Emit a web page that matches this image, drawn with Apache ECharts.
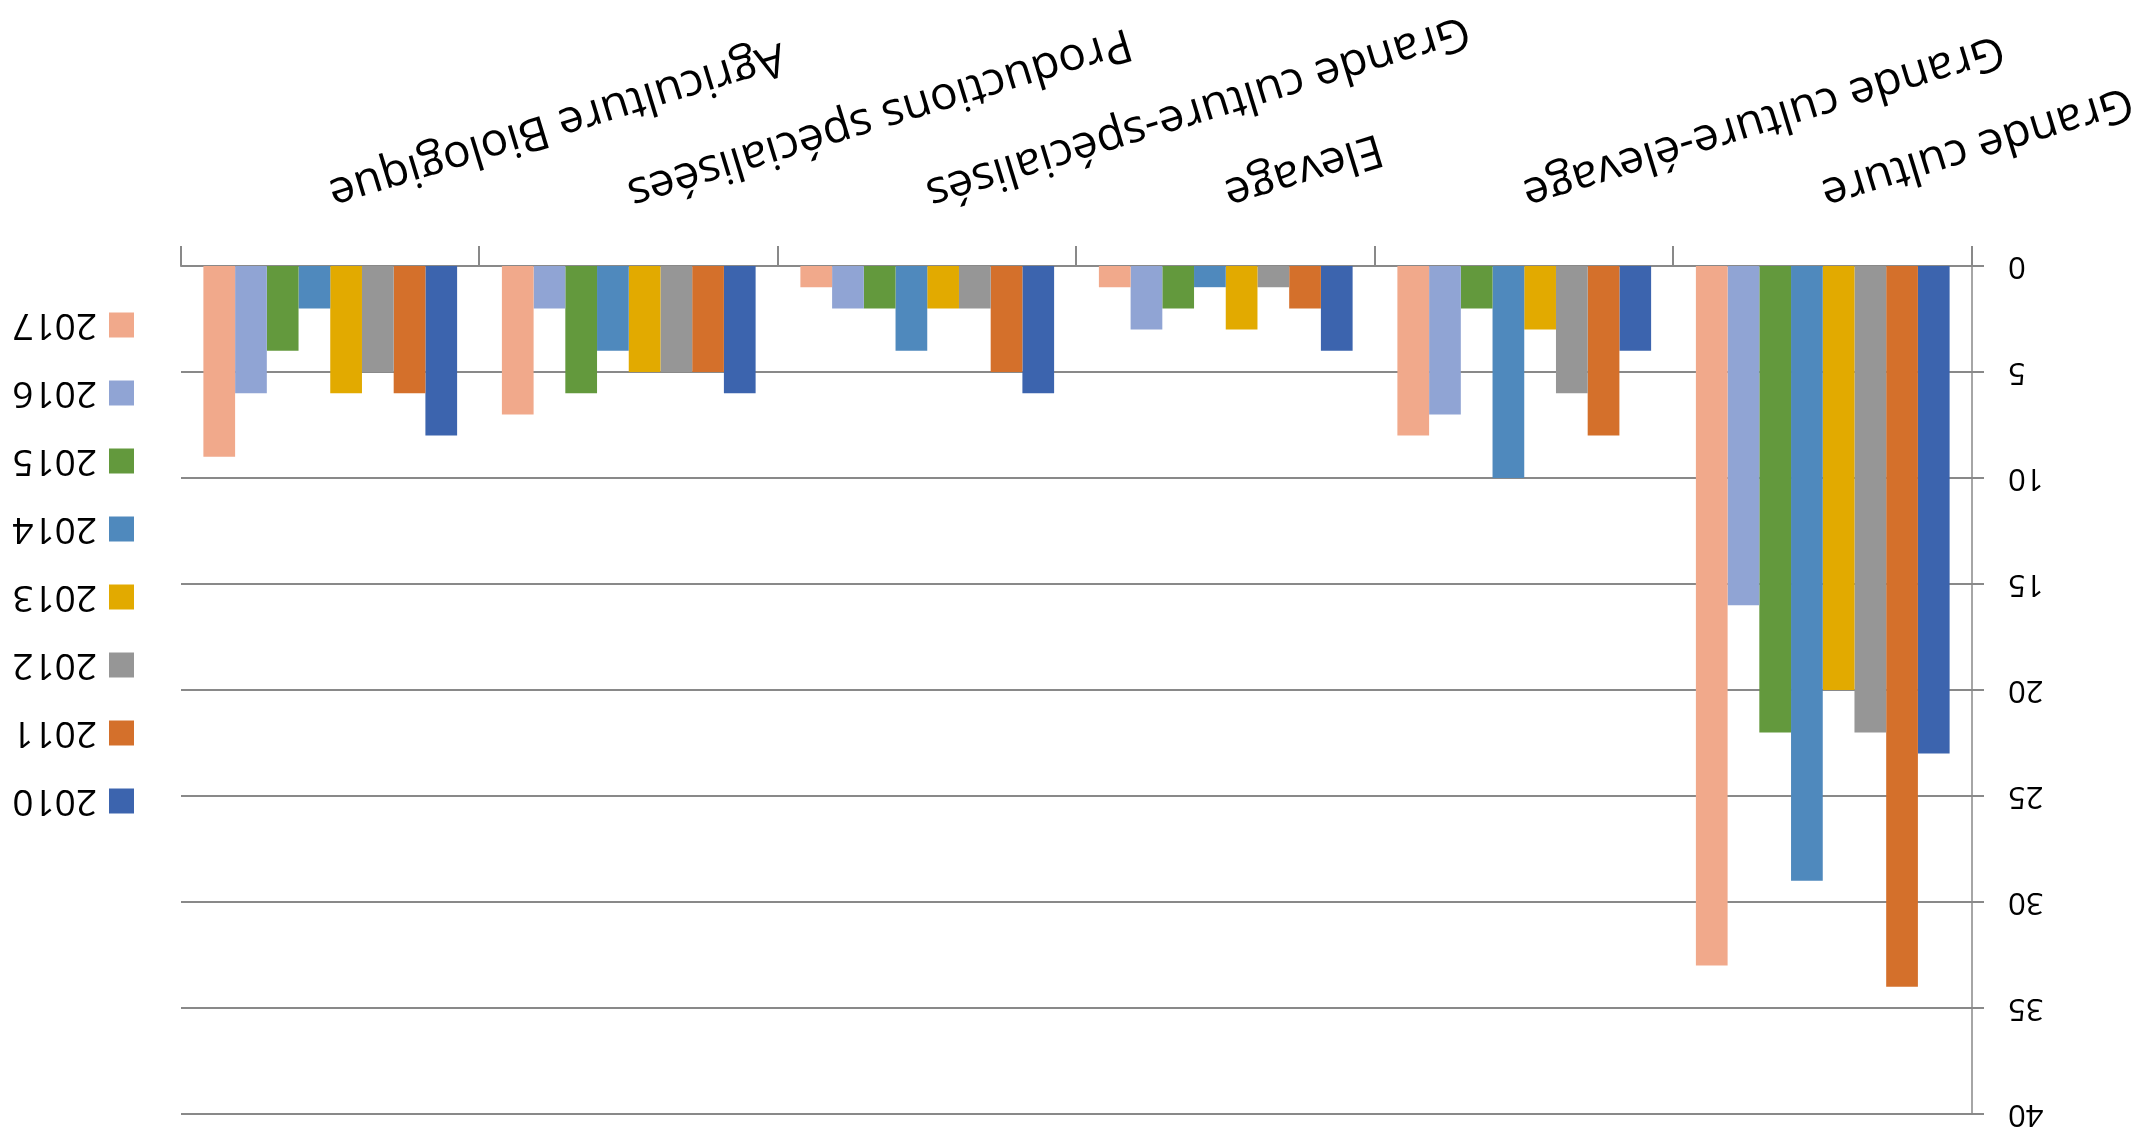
<!DOCTYPE html>
<html>
<head>
<meta charset="utf-8">
<script src="https://cdn.jsdelivr.net/npm/echarts@6/dist/echarts.min.js"></script>
<style>
html,body{margin:0;padding:0;background:#fff;overflow:hidden;}
#c{width:2138px;height:1137px;transform:rotate(180deg);transform-origin:50% 50%;}
</style>
</head>
<body>
<div id="c"></div>
<script>
const categories = ['Grande culture','Grande culture-élevage','Elevage','Grande culture-spécialisés','Productions spécialisées','Agriculture Biologique'];
const years = ['2010','2011','2012','2013','2014','2015','2016','2017'];
const colors = ['#3C64AE','#D4702B','#969696','#E2AA00','#4F89BD','#63993D','#90A4D4','#F1A98B'];
const v2010 = [23, 4, 4, 6, 6, 8];
const v2011 = [34, 8, 2, 5, 5, 6];
const v2012 = [22, 6, 1, 2, 5, 5];
const v2013 = [20, 3, 3, 2, 5, 6];
const v2014 = [29, 10, 1, 4, 4, 2];
const v2015 = [22, 2, 2, 2, 6, 4];
const v2016 = [16, 7, 3, 2, 2, 6];
const v2017 = [33, 8, 1, 1, 7, 9];
const valueTicks = {min: 0, max: 40, interval: 5};

const seriesValues = [v2010, v2011, v2012, v2013, v2014, v2015, v2016, v2017];
const FONT = '"Open Sans", "Liberation Sans", sans-serif';
const GREY = '#898989';

const chart = echarts.init(document.getElementById('c'), null, {renderer: 'canvas'});
chart.setOption({
  animation: false,
  backgroundColor: '#ffffff',
  textStyle: {fontFamily: FONT},
  grid: {left: 166, right: 181, top: 23, bottom: 266, containLabel: false, outerBoundsMode: 'none'},
  legend: {
    orient: 'vertical',
    left: 1999,
    top: 311,
    itemWidth: 25,
    itemHeight: 25,
    itemGap: 28,
    icon: 'rect',
    data: years,
    textStyle: {fontFamily: FONT, fontSize: 37, color: '#000', lineHeight: 40, padding: [0, 0, 0, 7]}
  },
  xAxis: {
    type: 'category',
    data: categories,
    boundaryGap: true,
    axisLine: {show: true, lineStyle: {color: GREY, width: 2}},
    axisTick: {show: true, length: 20, alignWithLabel: false, lineStyle: {color: GREY, width: 2}},
    axisLabel: {interval: 0, rotate: 17, margin: 72, fontFamily: FONT, fontSize: 46, color: '#000'},
    splitLine: {show: false}
  },
  yAxis: {
    type: 'value',
    min: valueTicks.min,
    max: valueTicks.max,
    interval: valueTicks.interval,
    axisLine: {show: true, lineStyle: {color: GREY, width: 1.5}},
    axisTick: {show: true, length: 12, lineStyle: {color: GREY, width: 2}},
    axisLabel: {margin: 36, fontFamily: FONT, fontSize: 31, color: '#000'},
    splitLine: {show: true, lineStyle: {color: GREY, width: 2}}
  },
  series: years.map((y, i) => ({
    name: y,
    type: 'bar',
    data: seriesValues[i],
    barGap: '0%',
    barCategoryGap: '15%',
    itemStyle: {color: colors[i]}
  }))
});
</script>
</body>
</html>
